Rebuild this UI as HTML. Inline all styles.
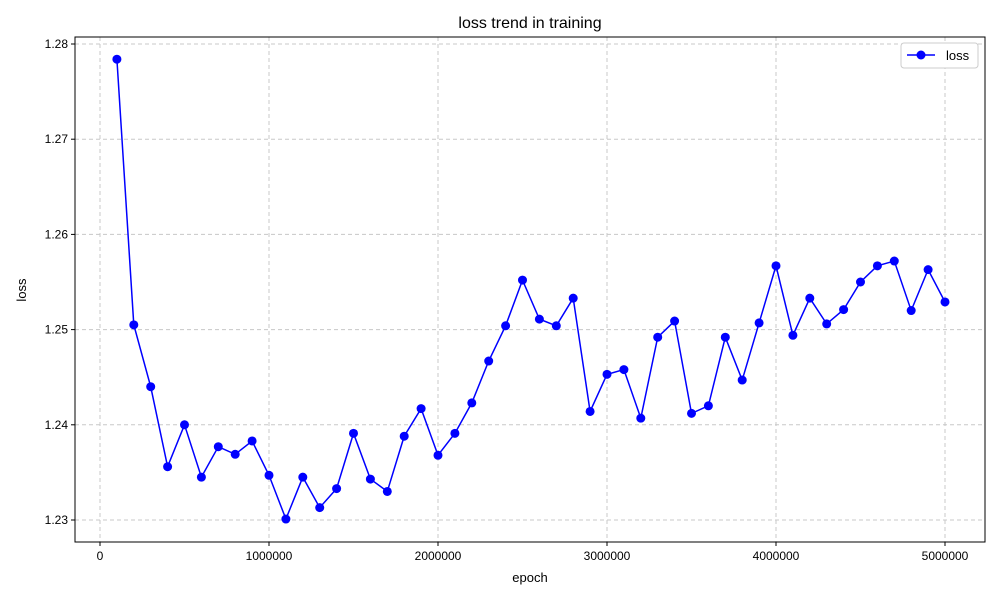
<!DOCTYPE html>
<html><head><meta charset="utf-8"><style>body{margin:0;background:#fff}svg{font-family:"Liberation Sans",sans-serif}</style></head>
<body>
<svg id="chart" width="1000" height="600">
<rect width="1000" height="600" fill="#fff"/>
<g id="grid"></g>
<g id="axes"></g>
<g id="series"></g>
<text x="530" y="28" text-anchor="middle" font-size="16">loss trend in training</text>
<text x="530" y="582" text-anchor="middle" font-size="13">epoch</text>
<text transform="translate(26,290) rotate(-90)" text-anchor="middle" font-size="13">loss</text>
<g>
<rect x="901" y="43" width="77" height="25" fill="#fff" stroke="#ccc" rx="3"/>
<line x1="907" y1="55" x2="935" y2="55" stroke="#0000ff" stroke-width="1.5"/>
<circle cx="921" cy="55" r="4.5" fill="#0000ff"/>
<text x="946" y="60" font-size="13">loss</text>
</g>
</svg>
<script>
const epochs=[];for(let i=1;i<=50;i++)epochs.push(i*100000);
const lossValues=[1.2784,1.2505,1.2440,1.2356,1.2400,1.2345,1.2377,1.2369,1.2383,1.2347,1.2301,1.2345,1.2313,1.2333,1.2391,1.2343,1.2330,1.2388,1.2417,1.2368,1.2391,1.2423,1.2467,1.2504,1.2552,1.2511,1.2504,1.2533,1.2414,1.2453,1.2458,1.2407,1.2492,1.2509,1.2412,1.2420,1.2492,1.2447,1.2507,1.2567,1.2494,1.2533,1.2506,1.2521,1.2550,1.2567,1.2572,1.2520,1.2563,1.2529];
const xTicks=[0,1000000,2000000,3000000,4000000,5000000];
const yTicks=[1.23,1.24,1.25,1.26,1.27,1.28];
const L=75,R=985,T=37,B=542;
const xs=v=>100+v*(845/5000000);
const ys=v=>520-(v-1.23)*(476/0.05);
const NS="http://www.w3.org/2000/svg";
function mk(t,a,p){const e=document.createElementNS(NS,t);for(const k in a)e.setAttribute(k,a[k]);p.appendChild(e);return e;}
const grid=document.getElementById('grid'),axes=document.getElementById('axes'),ser=document.getElementById('series');
xTicks.forEach(t=>{const x=xs(t);
const g=mk('line',{x1:x,x2:x,y1:T,y2:B,stroke:'#c8c8c8','stroke-dasharray':'4,3'},grid);


mk('line',{x1:x,x2:x,y1:B,y2:B+4,stroke:'#000'},axes);
const tx=mk('text',{x:x,y:B+18,'text-anchor':'middle','font-size':'12'},axes);tx.textContent=String(t);

});
yTicks.forEach(t=>{const y=ys(t);
const g=mk('line',{x1:L,x2:R,y1:y,y2:y,stroke:'#c8c8c8','stroke-dasharray':'4,3'},grid);


mk('line',{x1:L-4,x2:L,y1:y,y2:y,stroke:'#000'},axes);
const tx=mk('text',{x:L-7,y:y+4,'text-anchor':'end','font-size':'12'},axes);tx.textContent=t.toFixed(2);

});
const fr=mk('rect',{x:L,y:T,width:R-L,height:B-T,fill:'none',stroke:'#000'},axes);


const pl=mk('polyline',{points:epochs.map((e,i)=>xs(e)+','+ys(lossValues[i])).join(' '),fill:'none',stroke:'#0000ff','stroke-width':'1.5'},ser);


epochs.forEach((e,i)=>{const c=mk('circle',{cx:xs(e),cy:ys(lossValues[i]),r:4.5,fill:'#0000ff'},ser);

});
</script>
</body></html>
